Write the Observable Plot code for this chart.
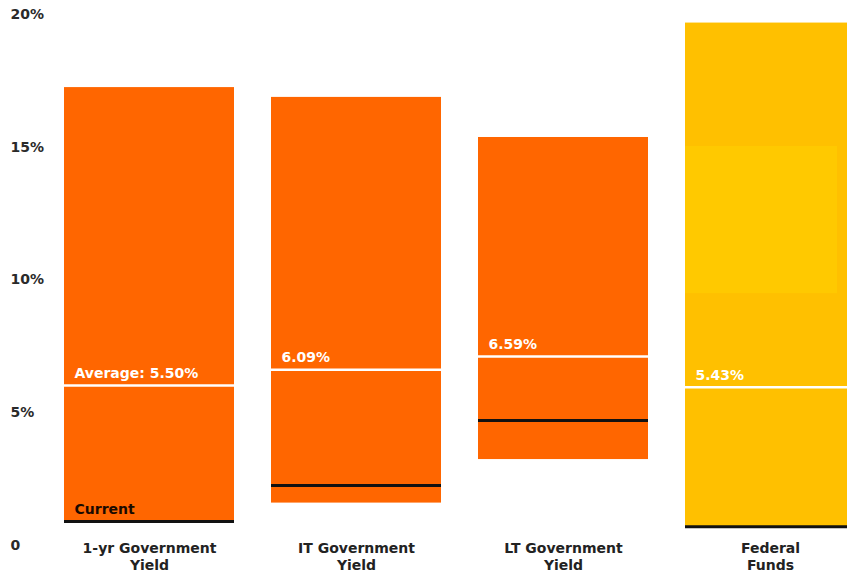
<!DOCTYPE html>
<html>
<head>
<meta charset="utf-8">
<script src="https://cdn.jsdelivr.net/npm/d3@7"></script>
<script src="https://cdn.jsdelivr.net/npm/@observablehq/plot@0.6"></script>
<style>
  html, body { margin: 0; padding: 0; background: white; overflow: hidden; }
  #chart svg { display: block; }
</style>
</head>
<body>
<div id="chart"></div>
<script>
// ---- Data ----
const categories = ["1-yr Government Yield", "IT Government Yield", "LT Government Yield", "Federal Funds"];
const xLabels = ["1-yr Government\nYield", "IT Government\nYield", "LT Government\nYield", "Federal\nFunds"];
const highs = [16.72, 16.35, 14.84, 19.15];
const lows = [0.34, 1.07, 2.71, 0.15];
const averages = [5.50, 6.09, 6.59, 5.43];
const avgLabels = ["Average: 5.50%", "6.09%", "6.59%", "5.43%"];
const currents = [0.38, 1.73, 4.18, 0.18];
const currentLabel = "Current";
const barColors = ["#FF6600", "#FF6600", "#FF6600", "#FFC000"];
const highlightCategory = ["Federal Funds"];
const highlightLow = [8.96];
const highlightHigh = [14.5];
const highlightColor = "#FFC900";
const yTicks = [0, 5, 10, 15, 20];

// ---- Tables built from the arrays ----
const bars = categories.map((c, i) => ({
  cat: c, label: xLabels[i], high: highs[i], low: lows[i],
  avg: averages[i], avgLabel: avgLabels[i], cur: currents[i], color: barColors[i]
}));
const highlights = highlightCategory.map((c, i) => ({cat: c, low: highlightLow[i], high: highlightHigh[i]}));

const W = 847, H = 573;
const font = "DejaVu Sans";

const chart = Plot.plot({
  width: W,
  height: H,
  marginTop: 0,
  marginBottom: 42,
  marginLeft: 0,
  marginRight: 0,
  style: {fontFamily: font, fontSize: "14px", background: "white", overflow: "hidden"},
  x: {type: "band", domain: categories, range: [63, 855.5], paddingInner: 0.1807, paddingOuter: 0, axis: null},
  y: {domain: [0, 20], axis: null},
  color: {type: "identity"},
  marks: [
    Plot.barY(bars, {x: "cat", y1: "low", y2: "high", fill: "color"}),
    Plot.barY(highlights, {x: "cat", y1: "low", y2: "high", fill: highlightColor, insetRight: 18}),
    Plot.tickY(bars, {x: "cat", y: "avg", stroke: "white", strokeWidth: 2.5}),
    Plot.tickY(bars, {x: "cat", y: "cur", stroke: "#111", strokeWidth: 3}),
    Plot.text(bars, {x: "cat", y: "avg", text: "avgLabel", textAnchor: "start", dx: -75, dy: -12,
      fill: "white", fontWeight: "bold", fontSize: 14, fontFamily: font}),
    Plot.text(bars.slice(0, 1), {x: "cat", y: "cur", text: () => currentLabel, textAnchor: "start", dx: -75, dy: -12,
      fill: "#1a0a00", fontWeight: "bold", fontSize: 14, fontFamily: font}),
    Plot.text(bars, {x: "cat", y: 0, text: "label", lineAnchor: "top", dy: 10, lineHeight: 1.2,
      fill: "#222", fontWeight: "bold", fontSize: 14, fontFamily: font}),
    Plot.text(yTicks, {y: d => d, text: d => d === 0 ? "0" : d + "%", frameAnchor: "left", textAnchor: "start",
      dx: 10, dy: 14, fill: "#2a2a2a", fontWeight: "bold", fontSize: 14, fontFamily: font})
  ]
});
document.getElementById("chart").appendChild(chart);
</script>
</body>
</html>
